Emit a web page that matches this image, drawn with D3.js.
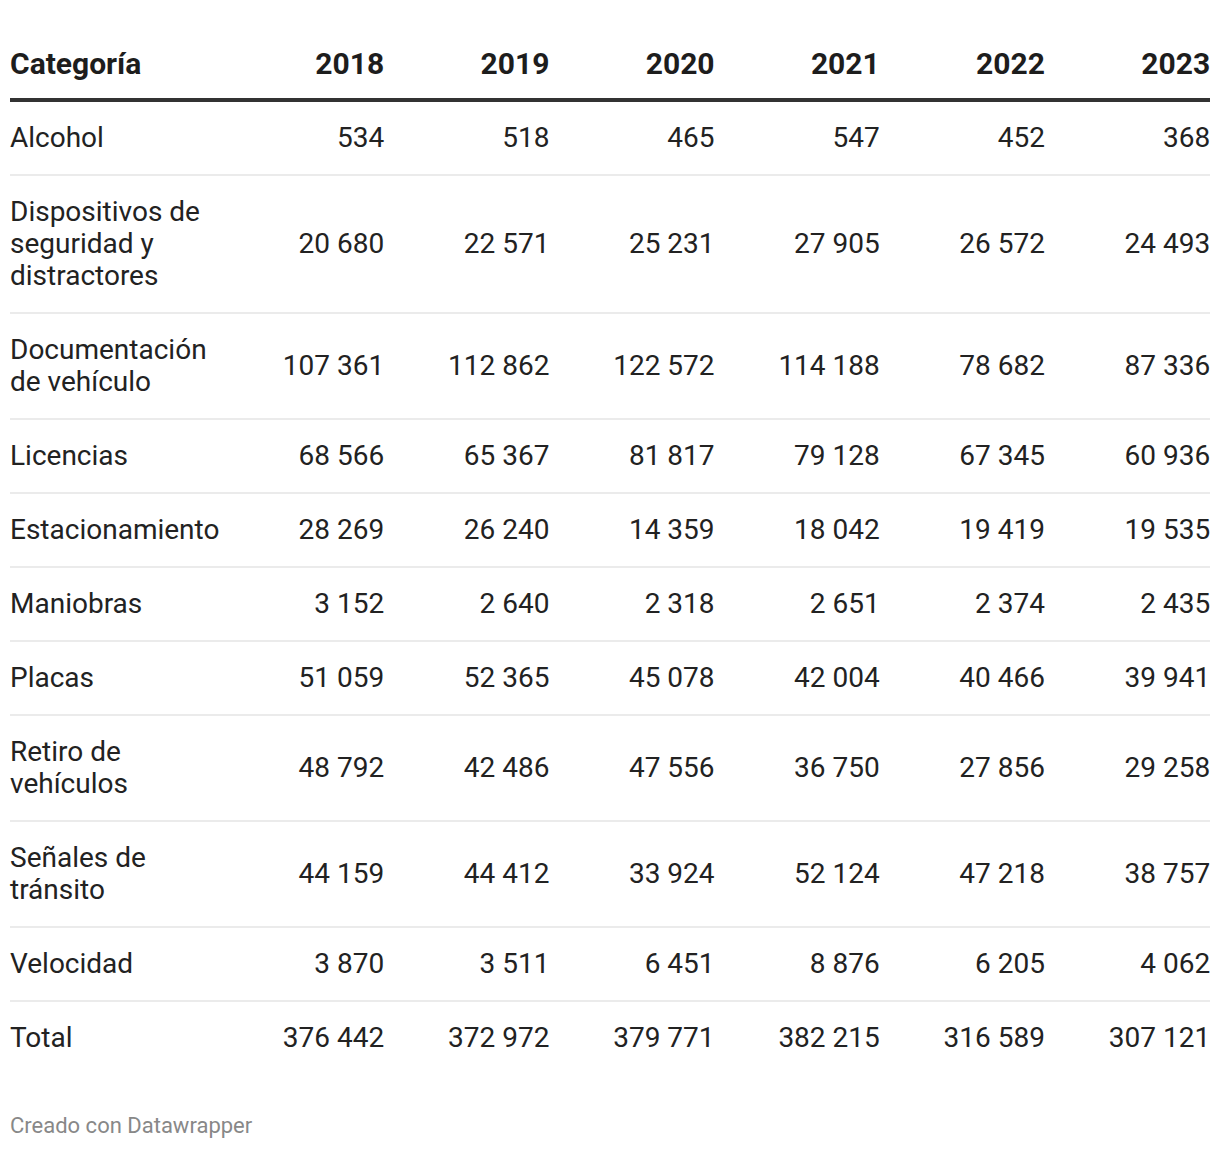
<!DOCTYPE html>
<html>
<head>
<meta charset="utf-8">
<script src="https://cdn.jsdelivr.net/npm/d3@7"></script>
<style>
  html, body { margin: 0; padding: 0; background: #fff; }
  body { width: 1220px; height: 1150px; position: relative; font-family: Roboto, "Noto Sans", sans-serif; }
  #wrap { position: absolute; left: 10px; top: 31px; width: 1200px; }
  table { border-collapse: collapse; width: 1200px; table-layout: fixed; }
  th, td { padding: 0; line-height: 32px; color: #222; vertical-align: middle; }
  th { font-weight: 700; font-size: 30px; padding: 17px 0 18px 0; border-bottom: 4px solid #333; color: #1d1d1d; }
  td { font-size: 28px; padding: 20px 0 20px 0; border-bottom: 2px solid #ebebeb; }
  tr:last-child td { border-bottom: none; }
  .l { text-align: left; }
  .r { text-align: right; }
  #foot { position: absolute; left: 10px; top: 1113px; font-size: 22px; color: #888; }
</style>
</head>
<body>
<div id="wrap"></div>
<div id="foot">Creado con Datawrapper</div>
<script>
const headerLabel = "Categoría";
const years = ["2018", "2019", "2020", "2021", "2022", "2023"];
const categories = ["Alcohol", "Dispositivos de seguridad y distractores", "Documentación de vehículo", "Licencias", "Estacionamiento", "Maniobras", "Placas", "Retiro de vehículos", "Señales de tránsito", "Velocidad", "Total"];
const v2018 = [534, 20680, 107361, 68566, 28269, 3152, 51059, 48792, 44159, 3870, 376442];
const v2019 = [518, 22571, 112862, 65367, 26240, 2640, 52365, 42486, 44412, 3511, 372972];
const v2020 = [465, 25231, 122572, 81817, 14359, 2318, 45078, 47556, 33924, 6451, 379771];
const v2021 = [547, 27905, 114188, 79128, 18042, 2651, 42004, 36750, 52124, 8876, 382215];
const v2022 = [452, 26572, 78682, 67345, 19419, 2374, 40466, 27856, 47218, 6205, 316589];
const v2023 = [368, 24493, 87336, 60936, 19535, 2435, 39941, 29258, 38757, 4062, 307121];
const series = [v2018, v2019, v2020, v2021, v2022, v2023];

const locale = d3.formatLocale({ decimal: ",", thousands: " ", grouping: [3], currency: ["", ""] });
const fmt = locale.format(",d");

const rows = categories.map((c, i) => ({ cat: c, vals: series.map(s => s[i]) }));

const table = d3.select("#wrap").append("table");
const cg = table.append("colgroup");
cg.append("col").style("width", "209px");
years.forEach(() => cg.append("col").style("width", "165.2px"));

const thr = table.append("thead").append("tr");
thr.append("th").attr("class", "l").text(headerLabel);
thr.selectAll("th.r").data(years).join("th").attr("class", "r").text(d => d);

const tb = table.append("tbody");
const tr = tb.selectAll("tr").data(rows).join("tr");
tr.append("td").attr("class", "l").text(d => d.cat);
tr.selectAll("td.r").data(d => d.vals).join("td").attr("class", "r").text(d => fmt(d));
</script>
</body>
</html>
